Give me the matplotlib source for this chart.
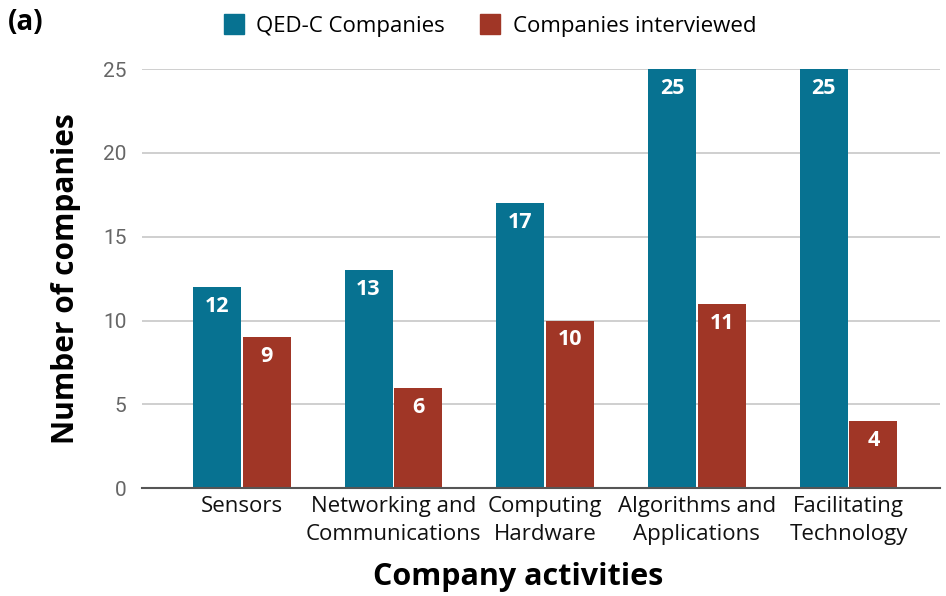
import numpy as np
import matplotlib
matplotlib.use('Agg')
import matplotlib.pyplot as plt
from matplotlib.patches import Patch

plt.rcParams.update({'font.family': 'Open Sans'})

CATEGORIES = ['Sensors', 'Networking and\nCommunications', 'Computing\nHardware',
              'Algorithms and\nApplications', 'Facilitating\nTechnology']
QEDC = [12, 13, 17, 25, 25]
INTERVIEWED = [9, 6, 10, 11, 4]
SERIES = ['QED-C Companies', 'Companies interviewed']
BLUE = '#077291'
RED = '#a03626'

fig = plt.figure(figsize=(9.46, 5.96), dpi=100)
ax = fig.add_axes([0.150, 0.181, 0.844, 0.703])

x = np.arange(len(CATEGORIES))
w = 0.316
off = 0.164
b1 = ax.bar(x - off, QEDC, width=w, color=BLUE, zorder=3)
b2 = ax.bar(x + off, INTERVIEWED, width=w, color=RED, zorder=3)

for bars, vals in ((b1, QEDC), (b2, INTERVIEWED)):
    for b, v in zip(bars, vals):
        ax.annotate(str(v), (b.get_x() + b.get_width() / 2, v),
                    xytext=(0, -14), textcoords='offset points',
                    ha='center', va='center', color='white',
                    fontsize=15.5, fontweight='bold', zorder=4)

ax.set_xlim(-0.658, 4.605)
ax.set_ylim(0, 25)
ax.set_yticks([0, 5, 10, 15, 20, 25])
ax.yaxis.grid(True, color='#cccccc', linewidth=1.3, zorder=0)
for s in ('top', 'right', 'left'):
    ax.spines[s].set_visible(False)
ax.spines['bottom'].set_color('#555555')
ax.spines['bottom'].set_linewidth(1.5)
ax.spines['bottom'].set_zorder(5)
ax.tick_params(axis='y', length=0, pad=11, labelsize=15, labelcolor='#666666')
for t in ax.get_yticklabels():
    t.set_family('Roboto')
ax.tick_params(axis='x', length=0, pad=6)
ax.set_xticks(x)
ax.set_xticklabels(CATEGORIES, fontsize=16, linespacing=1.4, color='#111111')

ax.set_ylabel('Number of companies', fontsize=21.5, fontweight='bold', labelpad=16)
ax.set_xlabel('Company activities', fontsize=22, fontweight='bold')
ax.xaxis.set_label_coords(0.471, -0.176)

handles = [Patch(color=BLUE), Patch(color=RED)]
fig.legend(handles, SERIES, loc='upper center', bbox_to_anchor=(0.518, 1.01),
           ncol=2, frameon=False, fontsize=16, handlelength=0.9, handleheight=1.0,
           columnspacing=1.6, handletextpad=0.55)

fig.text(0.008, 0.963, '(a)', fontsize=20, fontweight='bold', va='center')

fig.savefig('out.png', dpi=100, facecolor='white')
